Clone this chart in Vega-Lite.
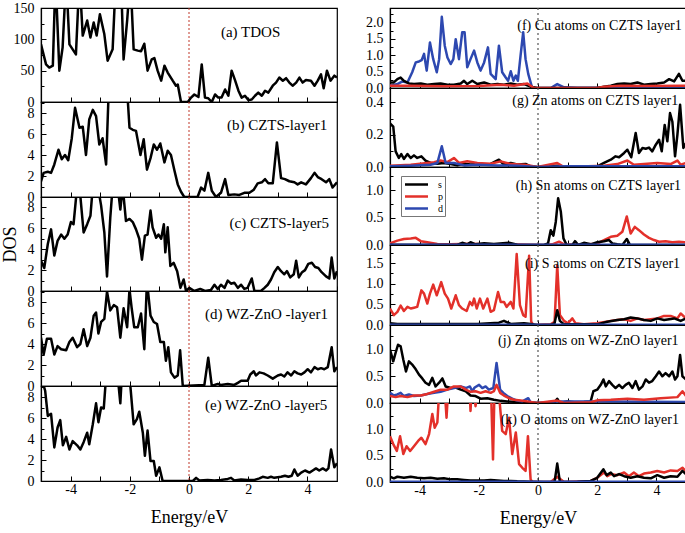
{
"$schema": "https://vega.github.io/schema/vega-lite/v6.json",
"padding": {"left": 0, "top": 0, "right": 0, "bottom": 0},
"spacing": 25,
"datasets": {
"a": [{"e":-5,"v":92},{"e":-4.83,"v":60},{"e":-4.72,"v":55},{"e":-4.6,"v":58},{"e":-4.51,"v":200},{"e":-4.38,"v":50},{"e":-4.27,"v":87},{"e":-4.15,"v":200},{"e":-4.04,"v":92},{"e":-3.93,"v":84},{"e":-3.82,"v":76},{"e":-3.7,"v":200},{"e":-3.59,"v":106},{"e":-3.44,"v":130},{"e":-3.33,"v":103},{"e":-3.22,"v":127},{"e":-3.12,"v":106},{"e":-3.01,"v":140},{"e":-2.86,"v":108},{"e":-2.75,"v":66},{"e":-2.58,"v":84},{"e":-2.47,"v":200},{"e":-2.3,"v":200},{"e":-2.21,"v":68},{"e":-2.09,"v":130},{"e":-1.98,"v":200},{"e":-1.87,"v":84},{"e":-1.73,"v":82},{"e":-1.62,"v":81},{"e":-1.51,"v":93},{"e":-1.4,"v":50},{"e":-1.26,"v":68},{"e":-1.17,"v":70},{"e":-1.06,"v":50},{"e":-0.94,"v":34},{"e":-0.83,"v":58},{"e":-0.72,"v":47},{"e":-0.55,"v":34},{"e":-0.44,"v":26},{"e":-0.38,"v":28},{"e":-0.27,"v":0},{"e":-0.04,"v":0},{"e":0.07,"v":7},{"e":0.18,"v":12},{"e":0.32,"v":8},{"e":0.43,"v":60},{"e":0.54,"v":7},{"e":0.65,"v":6},{"e":0.77,"v":0},{"e":0.88,"v":12},{"e":0.99,"v":7},{"e":1.1,"v":7},{"e":1.22,"v":20},{"e":1.33,"v":10},{"e":1.44,"v":50},{"e":1.56,"v":34},{"e":1.67,"v":18},{"e":1.78,"v":7},{"e":1.89,"v":10},{"e":2.01,"v":3},{"e":2.12,"v":4},{"e":2.23,"v":10},{"e":2.34,"v":15},{"e":2.46,"v":10},{"e":2.57,"v":18},{"e":2.68,"v":15},{"e":2.83,"v":26},{"e":2.94,"v":31},{"e":3.05,"v":39},{"e":3.17,"v":34},{"e":3.28,"v":38},{"e":3.39,"v":31},{"e":3.5,"v":26},{"e":3.62,"v":31},{"e":3.73,"v":39},{"e":3.84,"v":31},{"e":3.95,"v":35},{"e":4.12,"v":34},{"e":4.24,"v":26},{"e":4.35,"v":34},{"e":4.46,"v":44},{"e":4.55,"v":22},{"e":4.66,"v":50},{"e":4.78,"v":34},{"e":4.91,"v":42},{"e":5,"v":39}],
"b": [{"e":-5,"v":1.5},{"e":-4.91,"v":2.3},{"e":-4.77,"v":2.4},{"e":-4.66,"v":2.3},{"e":-4.55,"v":3.1},{"e":-4.41,"v":4.5},{"e":-4.3,"v":3.6},{"e":-4.19,"v":4.0},{"e":-4.08,"v":3.5},{"e":-3.96,"v":5.6},{"e":-3.85,"v":8.5},{"e":-3.7,"v":6.6},{"e":-3.59,"v":6.7},{"e":-3.48,"v":4.0},{"e":-3.37,"v":7.4},{"e":-3.25,"v":8.3},{"e":-3.14,"v":7.7},{"e":-3.03,"v":5.0},{"e":-2.92,"v":5.6},{"e":-2.8,"v":3.1},{"e":-2.69,"v":12},{"e":-2.13,"v":12},{"e":-2.01,"v":6.6},{"e":-1.9,"v":6.4},{"e":-1.79,"v":6.3},{"e":-1.64,"v":4.0},{"e":-1.53,"v":5.5},{"e":-1.42,"v":2.6},{"e":-1.3,"v":3.7},{"e":-1.19,"v":5.0},{"e":-1.08,"v":4.5},{"e":-0.97,"v":5.1},{"e":-0.83,"v":3.3},{"e":-0.72,"v":4.4},{"e":-0.61,"v":4.0},{"e":-0.49,"v":2.5},{"e":-0.38,"v":1.2},{"e":-0.27,"v":0.5},{"e":-0.16,"v":0},{"e":0.29,"v":0},{"e":0.41,"v":0.9},{"e":0.52,"v":0.6},{"e":0.65,"v":2.3},{"e":0.77,"v":0.6},{"e":0.91,"v":0},{"e":1.08,"v":0.4},{"e":1.22,"v":1.7},{"e":1.33,"v":0.2},{"e":1.53,"v":0.25},{"e":1.7,"v":0.2},{"e":1.87,"v":0.4},{"e":2.04,"v":0.4},{"e":2.19,"v":0.7},{"e":2.32,"v":1.3},{"e":2.46,"v":1.4},{"e":2.57,"v":1.7},{"e":2.68,"v":1.3},{"e":2.83,"v":1.3},{"e":2.97,"v":5.2},{"e":3.11,"v":1.8},{"e":3.24,"v":1.7},{"e":3.39,"v":1.5},{"e":3.56,"v":1.4},{"e":3.67,"v":1.2},{"e":3.79,"v":1.4},{"e":3.95,"v":1.2},{"e":4.12,"v":1.8},{"e":4.24,"v":2.3},{"e":4.35,"v":1.9},{"e":4.48,"v":1.7},{"e":4.63,"v":1.4},{"e":4.74,"v":1.7},{"e":4.85,"v":0.9},{"e":5,"v":1.4}],
"c": [{"e":-5,"v":2.9},{"e":-4.89,"v":2.2},{"e":-4.77,"v":4.5},{"e":-4.66,"v":5.9},{"e":-4.55,"v":3.4},{"e":-4.44,"v":4.8},{"e":-4.32,"v":5.4},{"e":-4.21,"v":5.0},{"e":-4.1,"v":5.4},{"e":-3.99,"v":6.6},{"e":-3.9,"v":6.4},{"e":-3.78,"v":10},{"e":-3.7,"v":10},{"e":-3.56,"v":5.6},{"e":-3.44,"v":6.4},{"e":-3.33,"v":7.2},{"e":-3.25,"v":10},{"e":-3.08,"v":10},{"e":-2.97,"v":8.2},{"e":-2.86,"v":5.6},{"e":-2.77,"v":1.4},{"e":-2.66,"v":7.0},{"e":-2.58,"v":10},{"e":-2.41,"v":10},{"e":-2.32,"v":7.8},{"e":-2.24,"v":10},{"e":-2.13,"v":6.7},{"e":-2.01,"v":6.9},{"e":-1.9,"v":6.6},{"e":-1.79,"v":5.9},{"e":-1.68,"v":5.0},{"e":-1.59,"v":3.0},{"e":-1.49,"v":5.3},{"e":-1.4,"v":5.4},{"e":-1.3,"v":7.7},{"e":-1.23,"v":6.1},{"e":-1.11,"v":5.1},{"e":-1.03,"v":5.4},{"e":-0.94,"v":5.0},{"e":-0.85,"v":6.4},{"e":-0.8,"v":3.7},{"e":-0.72,"v":6.1},{"e":-0.63,"v":2.4},{"e":-0.52,"v":2.7},{"e":-0.4,"v":1.9},{"e":-0.29,"v":0.3},{"e":-0.18,"v":1.1},{"e":-0.1,"v":0},{"e":0.01,"v":0.3},{"e":0.18,"v":0},{"e":0.38,"v":0.2},{"e":0.54,"v":0},{"e":0.74,"v":0.1},{"e":0.86,"v":0.6},{"e":0.97,"v":0.2},{"e":1.08,"v":0.6},{"e":1.2,"v":0.3},{"e":1.31,"v":1.0},{"e":1.42,"v":0.7},{"e":1.53,"v":0.8},{"e":1.65,"v":0.3},{"e":1.76,"v":0.6},{"e":1.87,"v":0.2},{"e":1.98,"v":0.3},{"e":2.12,"v":1.2},{"e":2.21,"v":0},{"e":2.43,"v":0},{"e":2.55,"v":0.3},{"e":2.66,"v":0.6},{"e":2.77,"v":1.1},{"e":2.88,"v":1.8},{"e":3.0,"v":2.3},{"e":3.11,"v":1.9},{"e":3.22,"v":1.6},{"e":3.31,"v":1.9},{"e":3.42,"v":1.3},{"e":3.54,"v":1.6},{"e":3.62,"v":2.9},{"e":3.71,"v":1.3},{"e":3.82,"v":1.8},{"e":3.92,"v":2.0},{"e":4.03,"v":2.6},{"e":4.15,"v":2.7},{"e":4.26,"v":2.3},{"e":4.37,"v":2.2},{"e":4.48,"v":1.8},{"e":4.63,"v":1.4},{"e":4.74,"v":1.2},{"e":4.82,"v":3.2},{"e":4.91,"v":1.2},{"e":5,"v":1.9}],
"d": [{"e":-5,"v":4.6},{"e":-4.91,"v":3.0},{"e":-4.8,"v":4.5},{"e":-4.66,"v":4.5},{"e":-4.55,"v":3.0},{"e":-4.44,"v":3.8},{"e":-4.32,"v":3.5},{"e":-4.15,"v":3.4},{"e":-4.04,"v":4.2},{"e":-3.93,"v":4.6},{"e":-3.78,"v":3.7},{"e":-3.67,"v":4.0},{"e":-3.56,"v":5.4},{"e":-3.44,"v":3.8},{"e":-3.33,"v":4.6},{"e":-3.22,"v":6.7},{"e":-3.14,"v":7.0},{"e":-3.06,"v":5.0},{"e":-2.97,"v":6.1},{"e":-2.86,"v":6.4},{"e":-2.77,"v":9.0},{"e":-2.66,"v":7.2},{"e":-2.54,"v":7.7},{"e":-2.43,"v":7.5},{"e":-2.32,"v":4.6},{"e":-2.21,"v":7.4},{"e":-2.09,"v":5.6},{"e":-2.01,"v":9.2},{"e":-1.94,"v":7.5},{"e":-1.85,"v":5.6},{"e":-1.73,"v":5.6},{"e":-1.62,"v":6.9},{"e":-1.51,"v":3.5},{"e":-1.42,"v":10},{"e":-1.3,"v":6.7},{"e":-1.19,"v":6.1},{"e":-1.08,"v":5.9},{"e":-0.97,"v":4.2},{"e":-0.85,"v":4.2},{"e":-0.78,"v":2.4},{"e":-0.7,"v":3.7},{"e":-0.61,"v":1.3},{"e":-0.49,"v":0.8},{"e":-0.38,"v":1.0},{"e":-0.3,"v":3.4},{"e":-0.21,"v":0},{"e":0.52,"v":0.1},{"e":0.65,"v":2.7},{"e":0.77,"v":0},{"e":0.97,"v":0.2},{"e":1.08,"v":0.1},{"e":1.31,"v":0.2},{"e":1.53,"v":0.1},{"e":1.65,"v":0.3},{"e":1.76,"v":0.5},{"e":1.98,"v":0.5},{"e":2.07,"v":1.1},{"e":2.19,"v":1.4},{"e":2.26,"v":1.0},{"e":2.38,"v":1.3},{"e":2.52,"v":1.2},{"e":2.66,"v":1.0},{"e":2.83,"v":0.7},{"e":3.0,"v":1.0},{"e":3.11,"v":1.1},{"e":3.22,"v":0.9},{"e":3.33,"v":1.3},{"e":3.45,"v":1.0},{"e":3.56,"v":1.4},{"e":3.67,"v":1.2},{"e":3.79,"v":1.1},{"e":3.9,"v":1.3},{"e":4.01,"v":1.6},{"e":4.12,"v":1.3},{"e":4.24,"v":1.8},{"e":4.35,"v":1.6},{"e":4.46,"v":1.7},{"e":4.57,"v":1.6},{"e":4.69,"v":1.8},{"e":4.82,"v":3.7},{"e":4.91,"v":1.4},{"e":5,"v":1.8}],
"ee": [{"e":-5,"v":10},{"e":-4.86,"v":8.6},{"e":-4.77,"v":6.2},{"e":-4.66,"v":6.4},{"e":-4.55,"v":3.2},{"e":-4.44,"v":5.1},{"e":-4.35,"v":5.8},{"e":-4.26,"v":3.4},{"e":-4.15,"v":4.2},{"e":-4.04,"v":3.0},{"e":-3.93,"v":3.8},{"e":-3.78,"v":3.4},{"e":-3.67,"v":3.0},{"e":-3.56,"v":3.7},{"e":-3.44,"v":4.6},{"e":-3.37,"v":3.5},{"e":-3.25,"v":5.4},{"e":-3.14,"v":7.4},{"e":-3.06,"v":5.6},{"e":-2.97,"v":7.0},{"e":-2.88,"v":6.9},{"e":-2.8,"v":10},{"e":-2.41,"v":10},{"e":-2.32,"v":7.4},{"e":-2.27,"v":10},{"e":-2.01,"v":10},{"e":-1.87,"v":5.4},{"e":-1.76,"v":5.9},{"e":-1.68,"v":6.6},{"e":-1.56,"v":4.6},{"e":-1.49,"v":2.4},{"e":-1.4,"v":4.8},{"e":-1.3,"v":1.9},{"e":-1.19,"v":1.9},{"e":-1.11,"v":0.5},{"e":-1.0,"v":1.3},{"e":-0.89,"v":0},{"e":0.13,"v":0},{"e":0.24,"v":0.3},{"e":0.35,"v":0.05},{"e":0.63,"v":0.1},{"e":0.86,"v":0.05},{"e":1.08,"v":0.1},{"e":1.31,"v":0.2},{"e":1.42,"v":0.3},{"e":1.53,"v":0.05},{"e":1.76,"v":0.15},{"e":1.98,"v":0.1},{"e":2.21,"v":0.1},{"e":2.38,"v":0.25},{"e":2.49,"v":0.4},{"e":2.66,"v":0.3},{"e":2.77,"v":0.4},{"e":2.88,"v":0.3},{"e":3.11,"v":0.4},{"e":3.24,"v":0.5},{"e":3.36,"v":0.4},{"e":3.47,"v":0.5},{"e":3.56,"v":1.1},{"e":3.67,"v":0.5},{"e":3.79,"v":0.8},{"e":3.92,"v":1.0},{"e":4.07,"v":0.8},{"e":4.18,"v":1.0},{"e":4.29,"v":1.2},{"e":4.4,"v":1.0},{"e":4.52,"v":1.2},{"e":4.63,"v":1.0},{"e":4.71,"v":1.2},{"e":4.8,"v":3.0},{"e":4.91,"v":1.3},{"e":5,"v":1.7}],
"f": [{"e":-5,"v":0.07,"o":"d"},{"e":-4.75,"v":0.12,"o":"d"},{"e":-4.58,"v":0.2,"o":"d"},{"e":-4.41,"v":0.17,"o":"d"},{"e":-4.36,"v":0.27,"o":"d"},{"e":-4.25,"v":0.48,"o":"d"},{"e":-4.13,"v":0.78,"o":"d"},{"e":-4.02,"v":0.81,"o":"d"},{"e":-3.93,"v":0.85,"o":"d"},{"e":-3.85,"v":1.04,"o":"d"},{"e":-3.76,"v":0.53,"o":"d"},{"e":-3.65,"v":1.39,"o":"d"},{"e":-3.54,"v":0.88,"o":"d"},{"e":-3.42,"v":0.48,"o":"d"},{"e":-3.34,"v":0.88,"o":"d"},{"e":-3.25,"v":2.17,"o":"d"},{"e":-3.15,"v":1.29,"o":"d"},{"e":-3.06,"v":0.93,"o":"d"},{"e":-2.95,"v":0.73,"o":"d"},{"e":-2.86,"v":0.88,"o":"d"},{"e":-2.78,"v":1.49,"o":"d"},{"e":-2.67,"v":0.88,"o":"d"},{"e":-2.56,"v":1.7,"o":"d"},{"e":-2.48,"v":1.7,"o":"d"},{"e":-2.39,"v":0.63,"o":"d"},{"e":-2.28,"v":0.88,"o":"d"},{"e":-2.16,"v":1.14,"o":"d"},{"e":-2.05,"v":0.78,"o":"d"},{"e":-1.94,"v":0.53,"o":"d"},{"e":-1.82,"v":0.78,"o":"d"},{"e":-1.69,"v":1.24,"o":"d"},{"e":-1.6,"v":0.43,"o":"d"},{"e":-1.43,"v":0.27,"o":"d"},{"e":-1.32,"v":1.29,"o":"d"},{"e":-1.21,"v":0.48,"o":"d"},{"e":-1.09,"v":0.32,"o":"d"},{"e":-1.01,"v":0.22,"o":"d"},{"e":-0.92,"v":0.51,"o":"d"},{"e":-0.83,"v":0.22,"o":"d"},{"e":-0.75,"v":0.38,"o":"d"},{"e":-0.68,"v":0.22,"o":"d"},{"e":-0.59,"v":0.98,"o":"d"},{"e":-0.5,"v":1.7,"o":"d"},{"e":-0.42,"v":0.88,"o":"d"},{"e":-0.33,"v":0.43,"o":"d"},{"e":-0.21,"v":0.04,"o":"d"},{"e":-0.14,"v":0,"o":"d"},{"e":0.43,"v":0,"o":"d"},{"e":0.65,"v":0.12,"o":"d"},{"e":0.88,"v":0.02,"o":"d"},{"e":1.33,"v":0.01,"o":"d"},{"e":5,"v":0.01,"o":"d"},
{"e":-5,"v":0.17,"o":"s"},{"e":-4.87,"v":0.17,"o":"s"},{"e":-4.75,"v":0.27,"o":"s"},{"e":-4.64,"v":0.32,"o":"s"},{"e":-4.53,"v":0.22,"o":"s"},{"e":-4.36,"v":0.14,"o":"s"},{"e":-4.19,"v":0.12,"o":"s"},{"e":-3.96,"v":0.14,"o":"s"},{"e":-3.74,"v":0.1,"o":"s"},{"e":-3.51,"v":0.12,"o":"s"},{"e":-3.29,"v":0.14,"o":"s"},{"e":-3.06,"v":0.1,"o":"s"},{"e":-2.84,"v":0.1,"o":"s"},{"e":-2.61,"v":0.14,"o":"s"},{"e":-2.5,"v":0.22,"o":"s"},{"e":-2.39,"v":0.12,"o":"s"},{"e":-2.22,"v":0.22,"o":"s"},{"e":-2.05,"v":0.12,"o":"s"},{"e":-1.82,"v":0.17,"o":"s"},{"e":-1.6,"v":0.1,"o":"s"},{"e":-1.37,"v":0.12,"o":"s"},{"e":-1.15,"v":0.1,"o":"s"},{"e":-0.92,"v":0.14,"o":"s"},{"e":-0.7,"v":0.1,"o":"s"},{"e":-0.47,"v":0.12,"o":"s"},{"e":-0.25,"v":0.04,"o":"s"},{"e":-0.02,"v":0,"o":"s"},{"e":2.0,"v":0,"o":"s"},{"e":2.23,"v":0.04,"o":"s"},{"e":2.46,"v":0.07,"o":"s"},{"e":2.68,"v":0.12,"o":"s"},{"e":2.91,"v":0.14,"o":"s"},{"e":3.13,"v":0.12,"o":"s"},{"e":3.36,"v":0.17,"o":"s"},{"e":3.58,"v":0.1,"o":"s"},{"e":3.81,"v":0.12,"o":"s"},{"e":4.03,"v":0.14,"o":"s"},{"e":4.26,"v":0.17,"o":"s"},{"e":4.43,"v":0.27,"o":"s"},{"e":4.6,"v":0.2,"o":"s"},{"e":4.76,"v":0.43,"o":"s"},{"e":4.88,"v":0.22,"o":"s"},{"e":5,"v":0.22,"o":"s"},
{"e":-5,"v":0.07,"o":"p"},{"e":-4.3,"v":0.07,"o":"p"},{"e":-3.2,"v":0.05,"o":"p"},{"e":-2.0,"v":0.06,"o":"p"},{"e":-1.26,"v":0.1,"o":"p"},{"e":-0.81,"v":0.07,"o":"p"},{"e":-0.36,"v":0.14,"o":"p"},{"e":-0.14,"v":0,"o":"p"},{"e":2.0,"v":0,"o":"p"},{"e":2.23,"v":0.04,"o":"p"},{"e":2.8,"v":0.07,"o":"p"},{"e":3.6,"v":0.06,"o":"p"},{"e":5,"v":0.07,"o":"p"}],
"g": [{"e":-5,"v":0.27,"o":"s"},{"e":-4.89,"v":0.25,"o":"s"},{"e":-4.81,"v":0.097,"o":"s"},{"e":-4.7,"v":0.056,"o":"s"},{"e":-4.62,"v":0.08,"o":"s"},{"e":-4.53,"v":0.05,"o":"s"},{"e":-4.41,"v":0.08,"o":"s"},{"e":-4.3,"v":0.056,"o":"s"},{"e":-4.19,"v":0.072,"o":"s"},{"e":-4.08,"v":0.056,"o":"s"},{"e":-3.94,"v":0.066,"o":"s"},{"e":-3.8,"v":0.04,"o":"s"},{"e":-3.63,"v":0.025,"o":"s"},{"e":-3.4,"v":0.02,"o":"s"},{"e":-3.18,"v":0.025,"o":"s"},{"e":-2.95,"v":0.019,"o":"s"},{"e":-2.73,"v":0.01,"o":"s"},{"e":-2.5,"v":0.02,"o":"s"},{"e":-2.28,"v":0.015,"o":"s"},{"e":-2.05,"v":0.019,"o":"s"},{"e":-1.82,"v":0.015,"o":"s"},{"e":-1.6,"v":0.019,"o":"s"},{"e":-1.32,"v":0.045,"o":"s"},{"e":-1.15,"v":0.015,"o":"s"},{"e":-0.92,"v":0.025,"o":"s"},{"e":-0.7,"v":0.015,"o":"s"},{"e":-0.42,"v":0.019,"o":"s"},{"e":-0.25,"v":0.004,"o":"s"},{"e":-0.02,"v":0,"o":"s"},{"e":0.65,"v":0.008,"o":"s"},{"e":0.88,"v":0,"o":"s"},{"e":2.0,"v":0.004,"o":"s"},{"e":2.23,"v":0.025,"o":"s"},{"e":2.46,"v":0.045,"o":"s"},{"e":2.62,"v":0.066,"o":"s"},{"e":2.74,"v":0.06,"o":"s"},{"e":2.91,"v":0.087,"o":"s"},{"e":3.02,"v":0.107,"o":"s"},{"e":3.15,"v":0.06,"o":"s"},{"e":3.3,"v":0.21,"o":"s"},{"e":3.41,"v":0.087,"o":"s"},{"e":3.53,"v":0.118,"o":"s"},{"e":3.64,"v":0.113,"o":"s"},{"e":3.75,"v":0.12,"o":"s"},{"e":3.86,"v":0.097,"o":"s"},{"e":3.98,"v":0.138,"o":"s"},{"e":4.09,"v":0.169,"o":"s"},{"e":4.18,"v":0.097,"o":"s"},{"e":4.28,"v":0.26,"o":"s"},{"e":4.37,"v":0.159,"o":"s"},{"e":4.46,"v":0.334,"o":"s"},{"e":4.54,"v":0.28,"o":"s"},{"e":4.63,"v":0.066,"o":"s"},{"e":4.71,"v":0.2,"o":"s"},{"e":4.8,"v":0.386,"o":"s"},{"e":4.91,"v":0.118,"o":"s"},{"e":5,"v":0.148,"o":"s"},
{"e":-5,"v":0.008,"o":"p"},{"e":-4.3,"v":0.014,"o":"p"},{"e":-3.74,"v":0.025,"o":"p"},{"e":-3.51,"v":0.03,"o":"p"},{"e":-3.29,"v":0.04,"o":"p"},{"e":-3.06,"v":0.03,"o":"p"},{"e":-2.84,"v":0.056,"o":"p"},{"e":-2.67,"v":0.025,"o":"p"},{"e":-2.39,"v":0.035,"o":"p"},{"e":-2.05,"v":0.025,"o":"p"},{"e":-1.6,"v":0.02,"o":"p"},{"e":-1.26,"v":0.035,"o":"p"},{"e":-0.92,"v":0.018,"o":"p"},{"e":-0.47,"v":0.014,"o":"p"},{"e":-0.25,"v":0.008,"o":"p"},{"e":-0.02,"v":0,"o":"p"},{"e":0.65,"v":0.025,"o":"p"},{"e":0.88,"v":0,"o":"p"},{"e":2.23,"v":0.008,"o":"p"},{"e":2.68,"v":0.018,"o":"p"},{"e":3.02,"v":0.04,"o":"p"},{"e":3.24,"v":0.014,"o":"p"},{"e":3.58,"v":0.018,"o":"p"},{"e":4.03,"v":0.025,"o":"p"},{"e":4.48,"v":0.018,"o":"p"},{"e":4.71,"v":0.04,"o":"p"},{"e":4.82,"v":0.014,"o":"p"},{"e":5,"v":0.025,"o":"p"},
{"e":-5,"v":0.004,"o":"d"},{"e":-4.3,"v":0.008,"o":"d"},{"e":-3.63,"v":0.014,"o":"d"},{"e":-3.4,"v":0.025,"o":"d"},{"e":-3.25,"v":0.128,"o":"d"},{"e":-3.12,"v":0.025,"o":"d"},{"e":-2.84,"v":0.025,"o":"d"},{"e":-2.5,"v":0.01,"o":"d"},{"e":-2.05,"v":0.014,"o":"d"},{"e":-1.37,"v":0.01,"o":"d"},{"e":-0.7,"v":0.008,"o":"d"},{"e":-0.02,"v":0,"o":"d"},{"e":1.0,"v":0.004,"o":"d"},{"e":5,"v":0.004,"o":"d"}],
"h": [{"e":-5,"v":0.03,"o":"p"},{"e":-4.75,"v":0.08,"o":"p"},{"e":-4.53,"v":0.11,"o":"p"},{"e":-4.3,"v":0.12,"o":"p"},{"e":-4.13,"v":0.13,"o":"p"},{"e":-3.96,"v":0.07,"o":"p"},{"e":-3.74,"v":0.05,"o":"p"},{"e":-3.4,"v":0.02,"o":"p"},{"e":-2.95,"v":0.012,"o":"p"},{"e":-2.28,"v":0.024,"o":"p"},{"e":-1.82,"v":0.012,"o":"p"},{"e":-0.92,"v":0.012,"o":"p"},{"e":-0.25,"v":0.006,"o":"p"},{"e":0.2,"v":0,"o":"p"},{"e":0.48,"v":0.012,"o":"p"},{"e":0.71,"v":0.06,"o":"p"},{"e":0.88,"v":0.012,"o":"p"},{"e":1.33,"v":0.006,"o":"p"},{"e":2.0,"v":0.024,"o":"p"},{"e":2.23,"v":0.09,"o":"p"},{"e":2.46,"v":0.15,"o":"p"},{"e":2.68,"v":0.17,"o":"p"},{"e":2.85,"v":0.24,"o":"p"},{"e":3.0,"v":0.52,"o":"p"},{"e":3.13,"v":0.21,"o":"p"},{"e":3.27,"v":0.33,"o":"p"},{"e":3.41,"v":0.27,"o":"p"},{"e":3.58,"v":0.19,"o":"p"},{"e":3.75,"v":0.13,"o":"p"},{"e":3.92,"v":0.09,"o":"p"},{"e":4.09,"v":0.06,"o":"p"},{"e":4.31,"v":0.07,"o":"p"},{"e":4.54,"v":0.05,"o":"p"},{"e":4.76,"v":0.06,"o":"p"},{"e":5,"v":0.05,"o":"p"},
{"e":-5,"v":0.006,"o":"s"},{"e":-2.73,"v":0.0,"o":"s"},{"e":-2.56,"v":0.04,"o":"s"},{"e":-2.39,"v":0.012,"o":"s"},{"e":-2.28,"v":0.05,"o":"s"},{"e":-2.11,"v":0.012,"o":"s"},{"e":-1.82,"v":0.03,"o":"s"},{"e":-1.49,"v":0.018,"o":"s"},{"e":-0.98,"v":0.04,"o":"s"},{"e":-0.7,"v":0.006,"o":"s"},{"e":0.2,"v":0,"o":"s"},{"e":0.34,"v":0.03,"o":"s"},{"e":0.43,"v":0.27,"o":"s"},{"e":0.52,"v":0.17,"o":"s"},{"e":0.6,"v":0.42,"o":"s"},{"e":0.68,"v":0.85,"o":"s"},{"e":0.77,"v":0.61,"o":"s"},{"e":0.86,"v":0.12,"o":"s"},{"e":0.97,"v":0,"o":"s"},{"e":1.16,"v":0,"o":"s"},{"e":1.25,"v":0.07,"o":"s"},{"e":1.36,"v":0,"o":"s"},{"e":1.55,"v":0.04,"o":"s"},{"e":1.78,"v":0.012,"o":"s"},{"e":2.0,"v":0.05,"o":"s"},{"e":2.23,"v":0.07,"o":"s"},{"e":2.4,"v":0.09,"o":"s"},{"e":2.51,"v":0.03,"o":"s"},{"e":2.68,"v":0.012,"o":"s"},{"e":2.85,"v":0,"o":"s"},{"e":3.0,"v":0.11,"o":"s"},{"e":3.11,"v":0,"o":"s"},{"e":5,"v":0,"o":"s"},
{"e":-5,"v":0.005,"o":"d"},{"e":5,"v":0.005,"o":"d"}],
"i": [{"e":-5,"v":0.4,"o":"p"},{"e":-4.87,"v":0.24,"o":"p"},{"e":-4.75,"v":0.32,"o":"p"},{"e":-4.64,"v":0.47,"o":"p"},{"e":-4.53,"v":0.34,"o":"p"},{"e":-4.41,"v":0.44,"o":"p"},{"e":-4.3,"v":0.4,"o":"p"},{"e":-4.19,"v":0.42,"o":"p"},{"e":-4.08,"v":0.44,"o":"p"},{"e":-3.94,"v":0.84,"o":"p"},{"e":-3.85,"v":0.76,"o":"p"},{"e":-3.74,"v":0.52,"o":"p"},{"e":-3.65,"v":0.76,"o":"p"},{"e":-3.54,"v":0.98,"o":"p"},{"e":-3.42,"v":0.72,"o":"p"},{"e":-3.27,"v":1.04,"o":"p"},{"e":-3.15,"v":0.76,"o":"p"},{"e":-3.04,"v":0.64,"o":"p"},{"e":-2.93,"v":0.4,"o":"p"},{"e":-2.78,"v":0.72,"o":"p"},{"e":-2.67,"v":0.48,"o":"p"},{"e":-2.56,"v":0.4,"o":"p"},{"e":-2.41,"v":0.34,"o":"p"},{"e":-2.3,"v":0.56,"o":"p"},{"e":-2.22,"v":0.48,"o":"p"},{"e":-2.16,"v":0.64,"o":"p"},{"e":-2.07,"v":0.4,"o":"p"},{"e":-1.96,"v":0.64,"o":"p"},{"e":-1.85,"v":0.4,"o":"p"},{"e":-1.71,"v":0.64,"o":"p"},{"e":-1.6,"v":0.32,"o":"p"},{"e":-1.49,"v":0.36,"o":"p"},{"e":-1.35,"v":0.8,"o":"p"},{"e":-1.26,"v":0.56,"o":"p"},{"e":-1.15,"v":0.56,"o":"p"},{"e":-1.06,"v":0.44,"o":"p"},{"e":-0.92,"v":0.56,"o":"p"},{"e":-0.83,"v":0.4,"o":"p"},{"e":-0.72,"v":1.72,"o":"p"},{"e":-0.61,"v":0.48,"o":"p"},{"e":-0.5,"v":0.24,"o":"p"},{"e":-0.42,"v":0.2,"o":"p"},{"e":-0.3,"v":1.68,"o":"p"},{"e":-0.23,"v":0.08,"o":"p"},{"e":-0.16,"v":0,"o":"p"},{"e":0.43,"v":0.016,"o":"p"},{"e":0.56,"v":0.08,"o":"p"},{"e":0.65,"v":1.44,"o":"p"},{"e":0.74,"v":0.24,"o":"p"},{"e":0.88,"v":0.1,"o":"p"},{"e":1.01,"v":0.04,"o":"p"},{"e":1.16,"v":0.16,"o":"p"},{"e":1.27,"v":0.04,"o":"p"},{"e":1.55,"v":0.016,"o":"p"},{"e":2.0,"v":0.04,"o":"p"},{"e":2.46,"v":0.1,"o":"p"},{"e":2.68,"v":0.12,"o":"p"},{"e":2.91,"v":0.14,"o":"p"},{"e":3.13,"v":0.1,"o":"p"},{"e":3.36,"v":0.16,"o":"p"},{"e":3.58,"v":0.12,"o":"p"},{"e":3.81,"v":0.14,"o":"p"},{"e":4.03,"v":0.16,"o":"p"},{"e":4.26,"v":0.22,"o":"p"},{"e":4.48,"v":0.22,"o":"p"},{"e":4.71,"v":0.16,"o":"p"},{"e":4.82,"v":0.28,"o":"p"},{"e":5,"v":0.16,"o":"p"},
{"e":-5,"v":0.04,"o":"s"},{"e":-4.75,"v":0.024,"o":"s"},{"e":-2.05,"v":0.024,"o":"s"},{"e":-1.32,"v":0.056,"o":"s"},{"e":-1.15,"v":0.1,"o":"s"},{"e":-0.92,"v":0.024,"o":"s"},{"e":-0.47,"v":0.04,"o":"s"},{"e":-0.25,"v":0.024,"o":"s"},{"e":-0.02,"v":0,"o":"s"},{"e":0.43,"v":0,"o":"s"},{"e":0.56,"v":0.04,"o":"s"},{"e":0.65,"v":0.36,"o":"s"},{"e":0.74,"v":0.1,"o":"s"},{"e":0.88,"v":0.016,"o":"s"},{"e":2.0,"v":0.016,"o":"s"},{"e":2.34,"v":0.08,"o":"s"},{"e":2.68,"v":0.12,"o":"s"},{"e":2.91,"v":0.14,"o":"s"},{"e":3.13,"v":0.18,"o":"s"},{"e":3.36,"v":0.16,"o":"s"},{"e":3.58,"v":0.12,"o":"s"},{"e":3.81,"v":0.1,"o":"s"},{"e":4.03,"v":0.16,"o":"s"},{"e":4.26,"v":0.12,"o":"s"},{"e":4.6,"v":0.16,"o":"s"},{"e":4.82,"v":0.1,"o":"s"},{"e":5,"v":0.16,"o":"s"},
{"e":-5,"v":0.005,"o":"d"},{"e":5,"v":0.005,"o":"d"}],
"j": [{"e":-5,"v":1.0,"o":"s"},{"e":-4.89,"v":0.78,"o":"s"},{"e":-4.81,"v":0.94,"o":"s"},{"e":-4.73,"v":1.09,"o":"s"},{"e":-4.64,"v":1.06,"o":"s"},{"e":-4.55,"v":0.81,"o":"s"},{"e":-4.46,"v":0.59,"o":"s"},{"e":-4.36,"v":0.78,"o":"s"},{"e":-4.25,"v":0.72,"o":"s"},{"e":-4.13,"v":0.63,"o":"s"},{"e":-4.02,"v":0.53,"o":"s"},{"e":-3.91,"v":0.46,"o":"s"},{"e":-3.8,"v":0.38,"o":"s"},{"e":-3.68,"v":0.34,"o":"s"},{"e":-3.57,"v":0.47,"o":"s"},{"e":-3.46,"v":0.31,"o":"s"},{"e":-3.34,"v":0.38,"o":"s"},{"e":-3.23,"v":0.46,"o":"s"},{"e":-3.12,"v":0.31,"o":"s"},{"e":-2.95,"v":0.28,"o":"s"},{"e":-2.78,"v":0.29,"o":"s"},{"e":-2.61,"v":0.25,"o":"s"},{"e":-2.44,"v":0.22,"o":"s"},{"e":-2.28,"v":0.14,"o":"s"},{"e":-2.11,"v":0.13,"o":"s"},{"e":-1.94,"v":0.08,"o":"s"},{"e":-1.71,"v":0.09,"o":"s"},{"e":-1.49,"v":0.06,"o":"s"},{"e":-1.26,"v":0.04,"o":"s"},{"e":-1.04,"v":0.03,"o":"s"},{"e":-0.7,"v":0.02,"o":"s"},{"e":-0.42,"v":0.013,"o":"s"},{"e":-0.02,"v":0,"o":"s"},{"e":0.54,"v":0,"o":"s"},{"e":0.65,"v":0.08,"o":"s"},{"e":0.74,"v":0,"o":"s"},{"e":0.99,"v":0.03,"o":"s"},{"e":1.22,"v":0.013,"o":"s"},{"e":1.55,"v":0.02,"o":"s"},{"e":1.78,"v":0.03,"o":"s"},{"e":1.87,"v":0.22,"o":"s"},{"e":2.0,"v":0.25,"o":"s"},{"e":2.12,"v":0.34,"o":"s"},{"e":2.21,"v":0.44,"o":"s"},{"e":2.29,"v":0.31,"o":"s"},{"e":2.4,"v":0.41,"o":"s"},{"e":2.51,"v":0.34,"o":"s"},{"e":2.62,"v":0.28,"o":"s"},{"e":2.74,"v":0.34,"o":"s"},{"e":2.85,"v":0.28,"o":"s"},{"e":2.96,"v":0.34,"o":"s"},{"e":3.07,"v":0.38,"o":"s"},{"e":3.19,"v":0.28,"o":"s"},{"e":3.3,"v":0.41,"o":"s"},{"e":3.41,"v":0.25,"o":"s"},{"e":3.53,"v":0.31,"o":"s"},{"e":3.64,"v":0.44,"o":"s"},{"e":3.75,"v":0.38,"o":"s"},{"e":3.86,"v":0.41,"o":"s"},{"e":3.98,"v":0.5,"o":"s"},{"e":4.09,"v":0.59,"o":"s"},{"e":4.2,"v":0.5,"o":"s"},{"e":4.31,"v":0.56,"o":"s"},{"e":4.43,"v":0.5,"o":"s"},{"e":4.54,"v":0.59,"o":"s"},{"e":4.63,"v":0.44,"o":"s"},{"e":4.71,"v":0.5,"o":"s"},{"e":4.8,"v":0.9,"o":"s"},{"e":4.88,"v":0.5,"o":"s"},{"e":5,"v":0.44,"o":"s"},
{"e":-5,"v":0.19,"o":"d"},{"e":-4.87,"v":0.14,"o":"d"},{"e":-4.75,"v":0.16,"o":"d"},{"e":-4.64,"v":0.19,"o":"d"},{"e":-4.53,"v":0.13,"o":"d"},{"e":-4.36,"v":0.16,"o":"d"},{"e":-4.19,"v":0.13,"o":"d"},{"e":-3.96,"v":0.14,"o":"d"},{"e":-3.74,"v":0.17,"o":"d"},{"e":-3.51,"v":0.19,"o":"d"},{"e":-3.29,"v":0.21,"o":"d"},{"e":-3.06,"v":0.25,"o":"d"},{"e":-2.84,"v":0.28,"o":"d"},{"e":-2.61,"v":0.31,"o":"d"},{"e":-2.44,"v":0.28,"o":"d"},{"e":-2.3,"v":0.31,"o":"d"},{"e":-2.22,"v":0.22,"o":"d"},{"e":-2.14,"v":0.29,"o":"d"},{"e":-1.99,"v":0.34,"o":"d"},{"e":-1.88,"v":0.28,"o":"d"},{"e":-1.77,"v":0.31,"o":"d"},{"e":-1.66,"v":0.25,"o":"d"},{"e":-1.51,"v":0.28,"o":"d"},{"e":-1.4,"v":0.75,"o":"d"},{"e":-1.28,"v":0.25,"o":"d"},{"e":-1.17,"v":0.19,"o":"d"},{"e":-1.04,"v":0.13,"o":"d"},{"e":-0.87,"v":0.08,"o":"d"},{"e":-0.7,"v":0.045,"o":"d"},{"e":-0.53,"v":0.03,"o":"d"},{"e":-0.33,"v":0.09,"o":"d"},{"e":-0.25,"v":0.013,"o":"d"},{"e":-0.02,"v":0,"o":"d"},{"e":0.65,"v":0.03,"o":"d"},{"e":2.0,"v":0.03,"o":"d"},{"e":5,"v":0.02,"o":"d"},
{"e":-5,"v":0.13,"o":"p"},{"e":-4.81,"v":0.11,"o":"p"},{"e":-4.64,"v":0.13,"o":"p"},{"e":-4.41,"v":0.11,"o":"p"},{"e":-4.19,"v":0.14,"o":"p"},{"e":-3.96,"v":0.14,"o":"p"},{"e":-3.74,"v":0.17,"o":"p"},{"e":-3.51,"v":0.21,"o":"p"},{"e":-3.29,"v":0.25,"o":"p"},{"e":-3.06,"v":0.25,"o":"p"},{"e":-2.84,"v":0.31,"o":"p"},{"e":-2.61,"v":0.31,"o":"p"},{"e":-2.44,"v":0.25,"o":"p"},{"e":-2.28,"v":0.21,"o":"p"},{"e":-2.11,"v":0.22,"o":"p"},{"e":-1.94,"v":0.19,"o":"p"},{"e":-1.77,"v":0.22,"o":"p"},{"e":-1.6,"v":0.19,"o":"p"},{"e":-1.49,"v":0.22,"o":"p"},{"e":-1.4,"v":0.34,"o":"p"},{"e":-1.28,"v":0.19,"o":"p"},{"e":-1.15,"v":0.14,"o":"p"},{"e":-0.98,"v":0.09,"o":"p"},{"e":-0.81,"v":0.06,"o":"p"},{"e":-0.59,"v":0.045,"o":"p"},{"e":-0.36,"v":0.03,"o":"p"},{"e":-0.02,"v":0,"o":"p"},{"e":0.65,"v":0.045,"o":"p"},{"e":0.88,"v":0,"o":"p"},{"e":1.78,"v":0.013,"o":"p"},{"e":2.0,"v":0.05,"o":"p"},{"e":2.46,"v":0.06,"o":"p"},{"e":3.02,"v":0.08,"o":"p"},{"e":3.58,"v":0.06,"o":"p"},{"e":4.14,"v":0.09,"o":"p"},{"e":4.71,"v":0.11,"o":"p"},{"e":4.88,"v":0.22,"o":"p"},{"e":5,"v":0.13,"o":"p"}],
"k": [{"e":-5,"v":0.87,"o":"p"},{"e":-4.89,"v":0.72,"o":"p"},{"e":-4.77,"v":0.59,"o":"p"},{"e":-4.66,"v":0.87,"o":"p"},{"e":-4.55,"v":0.53,"o":"p"},{"e":-4.44,"v":0.68,"o":"p"},{"e":-4.32,"v":0.59,"o":"p"},{"e":-4.19,"v":0.68,"o":"p"},{"e":-4.05,"v":0.78,"o":"p"},{"e":-3.94,"v":0.84,"o":"p"},{"e":-3.8,"v":0.72,"o":"p"},{"e":-3.68,"v":0.91,"o":"p"},{"e":-3.57,"v":1.29,"o":"p"},{"e":-3.49,"v":1.03,"o":"p"},{"e":-3.4,"v":1.13,"o":"p"},{"e":-3.31,"v":2.0,"o":"p"},{"e":-3.18,"v":2.0,"o":"p"},{"e":-3.09,"v":1.22,"o":"p"},{"e":-3.01,"v":2.0,"o":"p"},{"e":-2.33,"v":2.0,"o":"p"},{"e":-2.28,"v":1.35,"o":"p"},{"e":-2.22,"v":2.0,"o":"p"},{"e":-2.11,"v":1.44,"o":"p"},{"e":-1.99,"v":2.0,"o":"p"},{"e":-1.6,"v":2.0,"o":"p"},{"e":-1.52,"v":0.43,"o":"p"},{"e":-1.46,"v":2.0,"o":"p"},{"e":-1.37,"v":2.0,"o":"p"},{"e":-1.21,"v":0.97,"o":"p"},{"e":-1.09,"v":0.91,"o":"p"},{"e":-0.98,"v":1.22,"o":"p"},{"e":-0.87,"v":0.53,"o":"p"},{"e":-0.75,"v":0.94,"o":"p"},{"e":-0.64,"v":0.34,"o":"p"},{"e":-0.53,"v":0.27,"o":"p"},{"e":-0.42,"v":0.21,"o":"p"},{"e":-0.34,"v":0.87,"o":"p"},{"e":-0.25,"v":0.05,"o":"p"},{"e":-0.19,"v":0,"o":"p"},{"e":0.43,"v":0,"o":"p"},{"e":0.65,"v":0.1,"o":"p"},{"e":0.88,"v":0,"o":"p"},{"e":1.78,"v":0.02,"o":"p"},{"e":2.0,"v":0.08,"o":"p"},{"e":2.23,"v":0.18,"o":"p"},{"e":2.34,"v":0.11,"o":"p"},{"e":2.46,"v":0.15,"o":"p"},{"e":2.68,"v":0.13,"o":"p"},{"e":2.91,"v":0.18,"o":"p"},{"e":3.07,"v":0.11,"o":"p"},{"e":3.24,"v":0.18,"o":"p"},{"e":3.41,"v":0.11,"o":"p"},{"e":3.58,"v":0.16,"o":"p"},{"e":3.81,"v":0.18,"o":"p"},{"e":4.03,"v":0.21,"o":"p"},{"e":4.26,"v":0.18,"o":"p"},{"e":4.48,"v":0.22,"o":"p"},{"e":4.71,"v":0.21,"o":"p"},{"e":4.88,"v":0.27,"o":"p"},{"e":5,"v":0.21,"o":"p"},
{"e":-5,"v":0.1,"o":"s"},{"e":-4.87,"v":0.07,"o":"s"},{"e":-4.75,"v":0.1,"o":"s"},{"e":-4.53,"v":0.08,"o":"s"},{"e":-4.3,"v":0.1,"o":"s"},{"e":-4.08,"v":0.08,"o":"s"},{"e":-3.85,"v":0.07,"o":"s"},{"e":-3.63,"v":0.08,"o":"s"},{"e":-3.4,"v":0.06,"o":"s"},{"e":-3.18,"v":0.07,"o":"s"},{"e":-2.95,"v":0.05,"o":"s"},{"e":-2.73,"v":0.05,"o":"s"},{"e":-2.5,"v":0.04,"o":"s"},{"e":-2.28,"v":0.03,"o":"s"},{"e":-2.05,"v":0.03,"o":"s"},{"e":-1.82,"v":0.03,"o":"s"},{"e":-1.6,"v":0.04,"o":"s"},{"e":-1.37,"v":0.03,"o":"s"},{"e":-1.15,"v":0.02,"o":"s"},{"e":-0.92,"v":0.02,"o":"s"},{"e":-0.7,"v":0.013,"o":"s"},{"e":-0.25,"v":0.006,"o":"s"},{"e":0.2,"v":0,"o":"s"},{"e":0.56,"v":0,"o":"s"},{"e":0.65,"v":0.35,"o":"s"},{"e":0.74,"v":0,"o":"s"},{"e":1.33,"v":0.006,"o":"s"},{"e":1.78,"v":0.02,"o":"s"},{"e":2.0,"v":0.08,"o":"s"},{"e":2.21,"v":0.24,"o":"s"},{"e":2.32,"v":0.13,"o":"s"},{"e":2.46,"v":0.18,"o":"s"},{"e":2.57,"v":0.11,"o":"s"},{"e":2.74,"v":0.15,"o":"s"},{"e":2.91,"v":0.11,"o":"s"},{"e":3.13,"v":0.08,"o":"s"},{"e":3.36,"v":0.11,"o":"s"},{"e":3.58,"v":0.08,"o":"s"},{"e":3.81,"v":0.07,"o":"s"},{"e":4.03,"v":0.13,"o":"s"},{"e":4.26,"v":0.08,"o":"s"},{"e":4.48,"v":0.11,"o":"s"},{"e":4.71,"v":0.1,"o":"s"},{"e":4.88,"v":0.21,"o":"s"},{"e":5,"v":0.15,"o":"s"},
{"e":-5,"v":0.005,"o":"d"},{"e":5,"v":0.005,"o":"d"}]
},
"hconcat": [
{"vconcat": [
 {"width": 296, "height": 94, "resolve": {"axis": {"x": "independent", "y": "independent"}}, "layer": [
  {"data": {"values": [{}]}, "mark": {"type": "rule", "color": "#c0392b", "strokeDash": [2, 2], "strokeWidth": 1}, "encoding": {"x": {"datum": 0, "axis": null}}},
  {"data": {"name": "a"}, "mark": {"type": "line", "color": "black", "clip": true}, "encoding": {
   "x": {"field": "e", "type": "quantitative", "scale": {"domain": [-5, 5], "nice": false}, "axis": {"values": [-5,-4,-3,-2,-1,0,1,2,3,4,5], "labels": false, "title": null}},
   "y": {"field": "v", "type": "quantitative", "scale": {"domain": [0, 150], "nice": false}, "axis": {"values": [0,50,100,150], "title": null}}}},
  {"data": {"values": [{}]}, "mark": {"type": "text", "align": "left", "baseline": "middle", "fontSize": 15}, "encoding": {"x": {"datum": 1.08, "axis": null}, "y": {"datum": 112, "axis": {"orient": "left", "values": [25,75,125], "labels": false, "domain": false, "tickSize": -3, "title": null}}, "text": {"value": "(a) TDOS"}}}
 ]},
 {"width": 296, "height": 95, "resolve": {"axis": {"x": "independent", "y": "independent"}}, "layer": [
  {"data": {"values": [{}]}, "mark": {"type": "rule", "color": "#c0392b", "strokeDash": [2, 2], "strokeWidth": 1}, "encoding": {"x": {"datum": 0, "axis": null}}},
  {"data": {"name": "b"}, "mark": {"type": "line", "color": "black", "clip": true}, "encoding": {
   "x": {"field": "e", "type": "quantitative", "scale": {"domain": [-5, 5], "nice": false}, "axis": {"values": [-5,-4,-3,-2,-1,0,1,2,3,4,5], "labels": false, "title": null}},
   "y": {"field": "v", "type": "quantitative", "scale": {"domain": [0, 9.05], "nice": false}, "axis": {"values": [0,2,4,6,8], "title": null}}}},
  {"data": {"values": [{}]}, "mark": {"type": "text", "align": "left", "baseline": "middle", "fontSize": 15}, "encoding": {"x": {"datum": 1.28, "axis": null}, "y": {"datum": 6.86, "axis": {"orient": "left", "values": [1,3,5,7,9], "labels": false, "domain": false, "tickSize": -3, "title": null}}, "text": {"value": "(b) CZTS-layer1"}}}
 ]},
 {"width": 296, "height": 94, "resolve": {"axis": {"x": "independent", "y": "independent"}}, "layer": [
  {"data": {"values": [{}]}, "mark": {"type": "rule", "color": "#c0392b", "strokeDash": [2, 2], "strokeWidth": 1}, "encoding": {"x": {"datum": 0, "axis": null}}},
  {"data": {"name": "c"}, "mark": {"type": "line", "color": "black", "clip": true}, "encoding": {
   "x": {"field": "e", "type": "quantitative", "scale": {"domain": [-5, 5], "nice": false}, "axis": {"values": [-5,-4,-3,-2,-1,0,1,2,3,4,5], "labels": false, "title": null}},
   "y": {"field": "v", "type": "quantitative", "scale": {"domain": [0, 9.0], "nice": false}, "axis": {"values": [0,2,4,6,8], "title": "DOS"}}}},
  {"data": {"values": [{}]}, "mark": {"type": "text", "align": "left", "baseline": "middle", "fontSize": 15}, "encoding": {"x": {"datum": 1.37, "axis": null}, "y": {"datum": 6.5, "axis": {"orient": "left", "values": [1,3,5,7], "labels": false, "domain": false, "tickSize": -3, "title": null}}, "text": {"value": "(c) CZTS-layer5"}}}
 ]},
 {"width": 296, "height": 95, "resolve": {"axis": {"x": "independent", "y": "independent"}}, "layer": [
  {"data": {"values": [{}]}, "mark": {"type": "rule", "color": "#c0392b", "strokeDash": [2, 2], "strokeWidth": 1}, "encoding": {"x": {"datum": 0, "axis": null}}},
  {"data": {"name": "d"}, "mark": {"type": "line", "color": "black", "clip": true}, "encoding": {
   "x": {"field": "e", "type": "quantitative", "scale": {"domain": [-5, 5], "nice": false}, "axis": {"values": [-5,-4,-3,-2,-1,0,1,2,3,4,5], "labels": false, "title": null}},
   "y": {"field": "v", "type": "quantitative", "scale": {"domain": [0, 9.05], "nice": false}, "axis": {"values": [0,2,4,6,8], "title": null}}}},
  {"data": {"values": [{}]}, "mark": {"type": "text", "align": "left", "baseline": "middle", "fontSize": 15}, "encoding": {"x": {"datum": 0.54, "axis": null}, "y": {"datum": 6.9, "axis": {"orient": "left", "values": [1,3,5,7,9], "labels": false, "domain": false, "tickSize": -3, "title": null}}, "text": {"value": "(d) WZ-ZnO -layer1"}}}
 ]},
 {"width": 296, "height": 95, "resolve": {"axis": {"x": "independent", "y": "independent"}}, "layer": [
  {"data": {"values": [{}]}, "mark": {"type": "rule", "color": "#c0392b", "strokeDash": [2, 2], "strokeWidth": 1}, "encoding": {"x": {"datum": 0, "axis": null}}},
  {"data": {"name": "ee"}, "mark": {"type": "line", "color": "black", "clip": true}, "encoding": {
   "x": {"field": "e", "type": "quantitative", "scale": {"domain": [-5, 5], "nice": false}, "axis": {"values": [-4,-2,0,2,4], "labelExpr": "datum.value < 0 ? '-' + abs(datum.value) : '' + datum.value", "title": "Energy/eV"}},
   "y": {"field": "v", "type": "quantitative", "scale": {"domain": [0, 9.05], "nice": false}, "axis": {"values": [0,2,4,6,8], "title": null}}}},
  {"data": {"values": [{}]}, "mark": {"type": "text", "align": "left", "baseline": "middle", "fontSize": 15}, "encoding": {"x": {"datum": 0.54, "axis": {"orient": "bottom", "values": [-3,-1,1,3], "labels": false, "domain": false, "title": null}}, "y": {"datum": 7.2, "axis": {"orient": "left", "values": [1,3,5,7,9], "labels": false, "domain": false, "tickSize": -3, "title": null}}, "text": {"value": "(e) WZ-ZnO -layer5"}}}
 ]}
], "spacing": 0, "bounds": "flush"},
{"vconcat": [
 {"width": 296, "height": 80, "resolve": {"axis": {"x": "independent", "y": "independent"}}, "layer": [
  {"data": {"values": [{}]}, "mark": {"type": "rule", "color": "#555555", "strokeDash": [2, 3], "strokeWidth": 1.2}, "encoding": {"x": {"datum": 0, "axis": null}}},
  {"data": {"name": "f"}, "mark": {"type": "line", "clip": true}, "encoding": {
   "x": {"field": "e", "type": "quantitative", "scale": {"domain": [-5, 5], "nice": false}, "axis": {"values": [-5,-4,-3,-2,-1,0,1,2,3,4,5], "labels": false, "title": null}},
   "y": {"field": "v", "type": "quantitative", "scale": {"domain": [0, 2.44], "nice": false}, "axis": {"values": [0,0.5,1,1.5,2], "format": ".1f", "title": null}},
   "color": {"field": "o", "type": "nominal", "scale": {"domain": ["s","p","d"], "range": ["#000000","#e3302a","#2d48b0"]}, "legend": null}}},
  {"data": {"values": [{}]}, "mark": {"type": "text", "align": "left", "baseline": "middle", "fontSize": 14}, "encoding": {"x": {"datum": -0.7, "axis": null}, "y": {"datum": 1.9, "axis": {"orient": "left", "values": [0.25,0.75,1.25,1.75,2.25], "labels": false, "domain": false, "tickSize": -3, "title": null}}, "text": {"value": "(f) Cu atoms on CZTS layer1"}}}
 ]},
 {"width": 296, "height": 79, "resolve": {"axis": {"x": "independent", "y": "independent"}}, "layer": [
  {"data": {"values": [{}]}, "mark": {"type": "rule", "color": "#555555", "strokeDash": [2, 3], "strokeWidth": 1.2}, "encoding": {"x": {"datum": 0, "axis": null}}},
  {"data": {"name": "g"}, "mark": {"type": "line", "clip": true}, "encoding": {
   "x": {"field": "e", "type": "quantitative", "scale": {"domain": [-5, 5], "nice": false}, "axis": {"values": [-5,-4,-3,-2,-1,0,1,2,3,4,5], "labels": false, "title": null}},
   "y": {"field": "v", "type": "quantitative", "scale": {"domain": [0, 0.489], "nice": false}, "axis": {"values": [0,0.2,0.4], "format": ".1f", "title": null}},
   "color": {"field": "o", "type": "nominal", "scale": {"domain": ["s","p","d"], "range": ["#000000","#e3302a","#2d48b0"]}, "legend": null}}},
  {"data": {"values": [{}]}, "mark": {"type": "text", "align": "left", "baseline": "middle", "fontSize": 14}, "encoding": {"x": {"datum": -0.87, "axis": null}, "y": {"datum": 0.406, "axis": {"orient": "left", "values": [0.1,0.3], "labels": false, "domain": false, "tickSize": -3, "title": null}}, "text": {"value": "(g) Zn atoms on CZTS layer1"}}}
 ]},
 {"width": 296, "height": 78, "resolve": {"axis": {"x": "independent", "y": "independent"}}, "layer": [
  {"data": {"values": [{}]}, "mark": {"type": "rule", "color": "#555555", "strokeDash": [2, 3], "strokeWidth": 1.2}, "encoding": {"x": {"datum": 0, "axis": null}}},
  {"data": {"name": "h"}, "mark": {"type": "line", "clip": true}, "encoding": {
   "x": {"field": "e", "type": "quantitative", "scale": {"domain": [-5, 5], "nice": false}, "axis": {"values": [-5,-4,-3,-2,-1,0,1,2,3,4,5], "labels": false, "title": null}},
   "y": {"field": "v", "type": "quantitative", "scale": {"domain": [0, 1.42], "nice": false}, "axis": {"values": [0,0.5,1], "format": ".1f", "title": null}},
   "color": {"field": "o", "type": "nominal", "scale": {"domain": ["s","p","d"], "range": ["#000000","#e3302a","#2d48b0"]}, "legend": {"orient": "none", "legendX": 11, "legendY": 9, "title": null, "symbolType": "M-2.3,0L2.3,0", "symbolStrokeWidth": 2, "symbolSize": 100, "symbolOffset": 7, "labelFont": "Liberation Serif", "labelFontSize": 10, "labelColor": "black", "labelOffset": 15, "strokeColor": "#777777", "fillColor": "white", "padding": 2, "rowPadding": -2}}}},
  {"data": {"values": [{}]}, "mark": {"type": "text", "align": "left", "baseline": "middle", "fontSize": 14}, "encoding": {"x": {"datum": -0.75, "axis": null}, "y": {"datum": 1.08, "axis": {"orient": "left", "values": [0.25,0.75,1.25], "labels": false, "domain": false, "tickSize": -3, "title": null}}, "text": {"value": "(h) Sn atoms on CZTS layer1"}}}
 ]},
 {"width": 296, "height": 80, "resolve": {"axis": {"x": "independent", "y": "independent"}}, "layer": [
  {"data": {"values": [{}]}, "mark": {"type": "rule", "color": "#555555", "strokeDash": [2, 3], "strokeWidth": 1.2}, "encoding": {"x": {"datum": 0, "axis": null}}},
  {"data": {"name": "i"}, "mark": {"type": "line", "clip": true}, "encoding": {
   "x": {"field": "e", "type": "quantitative", "scale": {"domain": [-5, 5], "nice": false}, "axis": {"values": [-5,-4,-3,-2,-1,0,1,2,3,4,5], "labels": false, "title": null}},
   "y": {"field": "v", "type": "quantitative", "scale": {"domain": [0, 1.94], "nice": false}, "axis": {"values": [0,0.5,1,1.5], "format": ".1f", "title": null}},
   "color": {"field": "o", "type": "nominal", "scale": {"domain": ["s","p","d"], "range": ["#000000","#e3302a","#2d48b0"]}, "legend": null}}},
  {"data": {"values": [{}]}, "mark": {"type": "text", "align": "left", "baseline": "middle", "fontSize": 14}, "encoding": {"x": {"datum": -0.44, "axis": null}, "y": {"datum": 1.49, "axis": {"orient": "left", "values": [0.25,0.75,1.25,1.75], "labels": false, "domain": false, "tickSize": -3, "title": null}}, "text": {"value": "(i) S atoms on CZTS layer1"}}}
 ]},
 {"width": 296, "height": 78, "resolve": {"axis": {"x": "independent", "y": "independent"}}, "layer": [
  {"data": {"values": [{}]}, "mark": {"type": "rule", "color": "#555555", "strokeDash": [2, 3], "strokeWidth": 1.2}, "encoding": {"x": {"datum": 0, "axis": null}}},
  {"data": {"name": "j"}, "mark": {"type": "line", "clip": true}, "encoding": {
   "x": {"field": "e", "type": "quantitative", "scale": {"domain": [-5, 5], "nice": false}, "axis": {"values": [-5,-4,-3,-2,-1,0,1,2,3,4,5], "labels": false, "title": null}},
   "y": {"field": "v", "type": "quantitative", "scale": {"domain": [0, 1.46], "nice": false}, "axis": {"values": [0,0.5,1], "format": ".1f", "title": null}},
   "color": {"field": "o", "type": "nominal", "scale": {"domain": ["s","p","d"], "range": ["#000000","#e3302a","#2d48b0"]}, "legend": null}}},
  {"data": {"values": [{}]}, "mark": {"type": "text", "align": "left", "baseline": "middle", "fontSize": 14}, "encoding": {"x": {"datum": -1.35, "axis": null}, "y": {"datum": 1.16, "axis": {"orient": "left", "values": [0.25,0.75,1.25], "labels": false, "domain": false, "tickSize": -3, "title": null}}, "text": {"value": "(j) Zn atoms on WZ-ZnO layer1"}}}
 ]},
 {"width": 296, "height": 79, "resolve": {"axis": {"x": "independent", "y": "independent"}}, "layer": [
  {"data": {"values": [{}]}, "mark": {"type": "rule", "color": "#555555", "strokeDash": [2, 3], "strokeWidth": 1.2}, "encoding": {"x": {"datum": 0, "axis": null}}},
  {"data": {"name": "k"}, "mark": {"type": "line", "clip": true}, "encoding": {
   "x": {"field": "e", "type": "quantitative", "scale": {"domain": [-5, 5], "nice": false}, "axis": {"values": [-4,-2,0,2,4], "labelExpr": "datum.value < 0 ? '-' + abs(datum.value) : '' + datum.value", "title": "Energy/eV"}},
   "y": {"field": "v", "type": "quantitative", "scale": {"domain": [0, 1.5], "nice": false}, "axis": {"values": [0,0.5,1], "format": ".1f", "title": null}},
   "color": {"field": "o", "type": "nominal", "scale": {"domain": ["s","p","d"], "range": ["#000000","#e3302a","#2d48b0"]}, "legend": null}}},
  {"data": {"values": [{}]}, "mark": {"type": "text", "align": "left", "baseline": "middle", "fontSize": 14}, "encoding": {"x": {"datum": -1.26, "axis": {"orient": "bottom", "values": [-3,-1,1,3], "labels": false, "domain": false, "title": null}}, "y": {"datum": 1.17, "axis": {"orient": "left", "values": [0.25,0.75,1.25], "labels": false, "domain": false, "tickSize": -3, "title": null}}, "text": {"value": "(k) O atoms on WZ-ZnO layer1"}}}
 ]}
], "spacing": 0, "bounds": "flush", "resolve": {"legend": {"color": "independent"}}}
],
"config": {
 "font": "Liberation Serif",
 "view": {"stroke": "black", "strokeWidth": 1.2},
 "axis": {"labelFont": "Liberation Serif", "labelFontSize": 14, "labelColor": "black", "labelOverlap": false, "labelBound": false, "tickColor": "black", "domainColor": "black", "domainWidth": 1.2, "tickSize": -5, "tickWidth": 1, "grid": false, "titleFont": "Liberation Serif", "titleFontSize": 18, "titleFontWeight": "normal", "titleColor": "black"},
 "axisX": {"labelPadding": 6, "titlePadding": 12},
 "axisY": {"labelPadding": 12, "titlePadding": 8},
 "text": {"font": "Liberation Serif", "color": "black"},
 "line": {"strokeWidth": 2.5, "strokeJoin": "round"}
}
}
